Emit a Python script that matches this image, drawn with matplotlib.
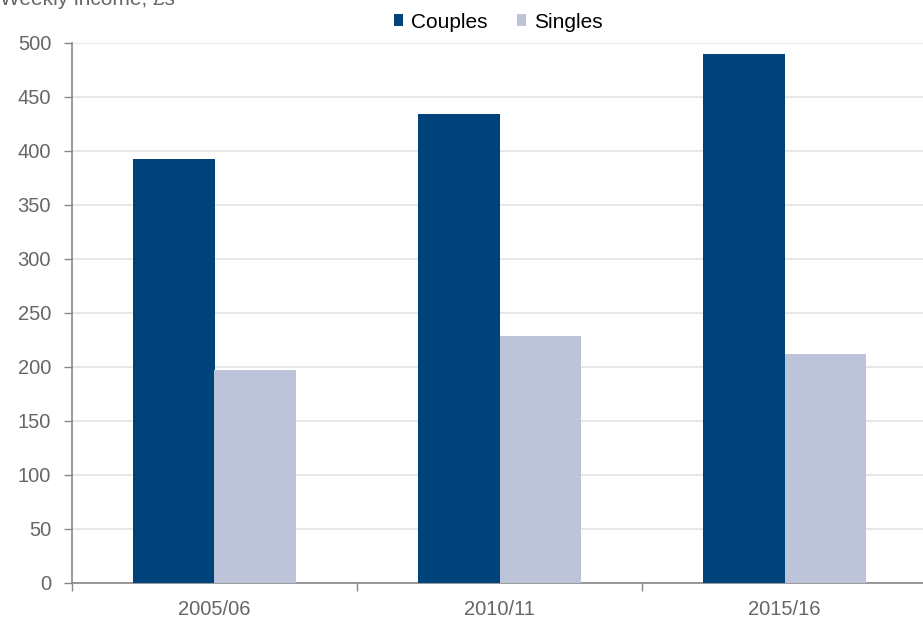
import matplotlib
matplotlib.use("Agg")
import matplotlib.pyplot as plt
from matplotlib.ticker import FixedLocator, NullFormatter
import numpy as np

plt.rcParams['font.family'] = ['Liberation Sans', 'DejaVu Sans']

categories = ["2005/06", "2010/11", "2015/16"]
couples = [393, 434, 490]
singles = [197, 229, 212]
yticks = [0, 50, 100, 150, 200, 250, 300, 350, 400, 450, 500]

c_couples = "#00427A"
c_singles = "#BDC3D9"
gray_txt = "#666666"

W, H = 923, 618
fig = plt.figure(figsize=(W / 100, H / 100), dpi=100)
ax = fig.add_axes([72 / W, (H - 583) / H, 855 / W, 540 / H])

x = np.arange(len(categories)) + 0.5
bw = 0.285
ax.bar(x - bw / 2, couples, width=bw, color=c_couples, label="Couples", zorder=3)
ax.bar(x + bw / 2, singles, width=bw, color=c_singles, label="Singles", zorder=3)

ax.set_xlim(0, 3)
ax.set_ylim(0, 500)
ax.set_yticks(yticks)
ax.yaxis.grid(True, color="#E3E3E3", linewidth=1.2, zorder=0)
ax.set_axisbelow(True)

ax.xaxis.set_major_locator(FixedLocator([0, 1, 2, 3]))
ax.xaxis.set_major_formatter(NullFormatter())
ax.xaxis.set_minor_locator(FixedLocator(list(x)))
ax.set_xticklabels(categories, minor=True)
ax.tick_params(axis="x", which="minor", length=0, pad=12, labelsize=14.5, labelcolor=gray_txt)
ax.tick_params(axis="x", which="major", length=6, color="#888888", width=1)
ax.tick_params(axis="y", length=6, color="#888888", width=1, labelsize=14.5, labelcolor=gray_txt, pad=9)

for s in ["top", "right"]:
    ax.spines[s].set_visible(False)
for s in ["left", "bottom"]:
    ax.spines[s].set_color("#888888")
    ax.spines[s].set_linewidth(1.2)

fig.text(0, 1 - 5 / H, "Weekly income, £s", ha="left", va="baseline", fontsize=15, color=gray_txt)

leg = fig.legend(loc="center", bbox_to_anchor=(498 / W, 1 - 22 / H), ncol=2, frameon=False,
                 fontsize=15, handlelength=0.45, handleheight=0.45, handletextpad=0.38,
                 columnspacing=1.4, borderaxespad=0, borderpad=0)

fig.savefig("out.png", dpi=100)
